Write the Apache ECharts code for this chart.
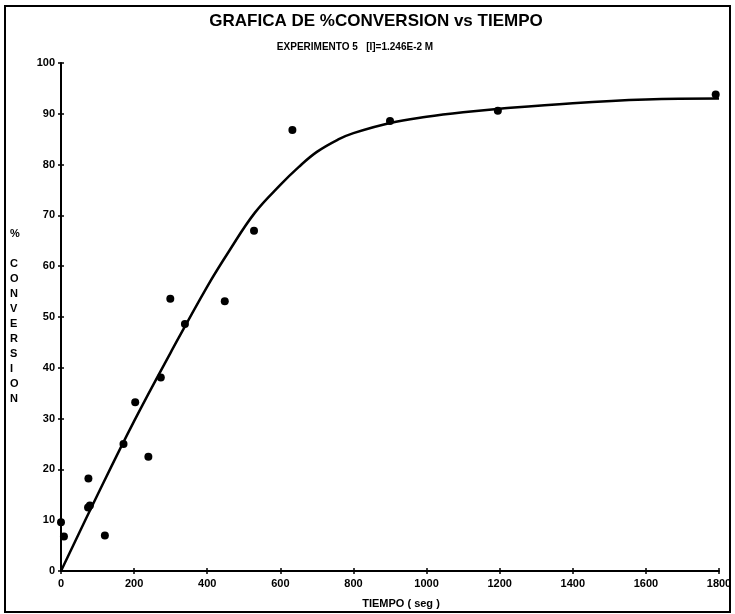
<!DOCTYPE html>
<html>
<head>
<meta charset="utf-8">
<script src="https://cdn.jsdelivr.net/npm/echarts@6/dist/echarts.min.js"></script>
<style>
html,body{margin:0;padding:0;background:#fff;}
#chart{width:735px;height:614px;}
</style>
</head>
<body>
<div id="chart"></div>
<script>
// Measured points: tiempo (seg), % conversion
const pointX = [0, 8, 75, 74, 79, 120, 171, 203, 239, 273, 299, 339, 448, 528, 633, 900, 1195, 1791];
const pointY = [9.6, 6.8, 18.2, 12.5, 12.9, 7.0, 25.0, 33.2, 22.5, 38.1, 53.6, 48.6, 53.1, 67.0, 86.8, 88.6, 90.6, 93.8];
// Fitted curve
const curveX = [0, 100, 200, 300, 400, 460, 530, 600, 650, 700, 760, 800, 900, 1000, 1100, 1200, 1400, 1600, 1800];
const curveY = [0, 15, 29.5, 43, 56, 63, 70.5, 76, 79.5, 82.5, 85, 86.2, 88.2, 89.4, 90.3, 91, 92.1, 92.8, 93];
const xTicks = [0, 200, 400, 600, 800, 1000, 1200, 1400, 1600, 1800];
const yTicks = [0, 10, 20, 30, 40, 50, 60, 70, 80, 90, 100];

const titleText = 'GRAFICA DE %CONVERSION vs TIEMPO';
const subText = 'EXPERIMENTO 5   [I]=1.246E-2 M';
const xName = 'TIEMPO ( seg )';
const yNameChars = ['%', '', 'C', 'O', 'N', 'V', 'E', 'R', 'S', 'I', 'O', 'N'];

const FONT = '"Liberation Sans", Arial, sans-serif';
const chart = echarts.init(document.getElementById('chart'), null, {renderer: 'canvas'});

const baseX = {
  type: 'value', position: 'bottom', min: xTicks[0], max: xTicks[xTicks.length - 1], interval: 200,
  splitLine: {show: false}
};
const baseY = {
  type: 'value', position: 'left', min: yTicks[0], max: yTicks[yTicks.length - 1], interval: 10,
  splitLine: {show: false}
};

chart.setOption({
  animation: false,
  backgroundColor: '#fff',
  grid: {left: 61, right: 16, top: 63, bottom: 43, containLabel: false},
  title: [
    {text: titleText, left: 371, top: 8, textAlign: 'center',
     textStyle: {fontFamily: FONT, fontWeight: 'bold', fontSize: 17, color: '#000'}},
    {text: subText, left: 350, top: 37, textAlign: 'center',
     textStyle: {fontFamily: FONT, fontWeight: 'bold', fontSize: 10, color: '#000'}}
  ],
  xAxis: [
    Object.assign({}, baseX, {
      axisLine: {show: true, onZero: false, lineStyle: {color: '#000', width: 2}},
      axisTick: {show: true, inside: false, length: 3, lineStyle: {color: '#000', width: 1.5}},
      axisLabel: {show: true, margin: 7, color: '#000', fontFamily: FONT, fontWeight: 'bold', fontSize: 11,
                  formatter: v => String(v)},
      name: xName, nameLocation: 'middle', nameGap: 27,
      nameTextStyle: {fontFamily: FONT, fontWeight: 'bold', fontSize: 11, color: '#000', padding: [0, 0, 0, 22]}
    }),
    Object.assign({}, baseX, {
      axisLine: {show: false, onZero: false},
      axisTick: {show: true, inside: true, length: 3, lineStyle: {color: '#000', width: 1.5}},
      axisLabel: {show: false}
    })
  ],
  yAxis: [
    Object.assign({}, baseY, {
      axisLine: {show: true, onZero: false, lineStyle: {color: '#000', width: 2}},
      axisTick: {show: true, inside: false, length: 3, lineStyle: {color: '#000', width: 1.5}},
      axisLabel: {show: true, margin: 6, color: '#000', fontFamily: FONT, fontWeight: 'bold', fontSize: 11}
    }),
    Object.assign({}, baseY, {
      axisLine: {show: false, onZero: false},
      axisTick: {show: true, inside: true, length: 3, lineStyle: {color: '#000', width: 1.5}},
      axisLabel: {show: false}
    })
  ],
  graphic: [
    {type: 'rect', shape: {x: 5, y: 6, width: 725, height: 606}, z: -1,
     style: {fill: null, stroke: '#000', lineWidth: 2}},
    {type: 'text', left: 10, top: 226,
     style: {text: yNameChars.join('\n'), font: 'bold 11px ' + FONT, lineHeight: 15,
             fill: '#000', align: 'center', width: 12}}
  ],
  series: [
    {
      type: 'line', xAxisIndex: 0, yAxisIndex: 0,
      data: curveX.map((x, i) => [x, curveY[i]]),
      smooth: 0.4, showSymbol: false, symbol: 'none',
      lineStyle: {color: '#000', width: 2.5}, z: 2
    },
    {
      type: 'scatter', xAxisIndex: 0, yAxisIndex: 0,
      data: pointX.map((x, i) => [x, pointY[i]]),
      symbol: 'circle', symbolSize: 8,
      itemStyle: {color: '#000', opacity: 1}, z: 3
    }
  ]
});
</script>
</body>
</html>
